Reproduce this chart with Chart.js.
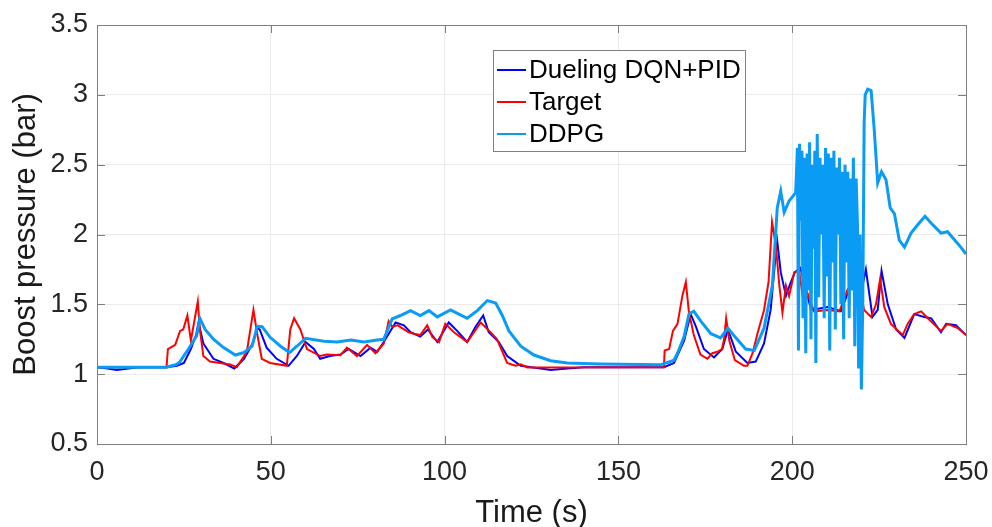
<!DOCTYPE html>
<html lang="en">
<head>
    <meta charset="UTF-8">
    <title>Boost pressure</title>
    <script src="https://cdn.jsdelivr.net/npm/chart.js"></script>
    <style>
        body {
            margin: 0;
            background: #fff;
        }
        #wrap {
            width: 992px;
            height: 527px;
        }
    </style>
</head>
<body>
    <div id="wrap">
        <canvas id="myChart" width="992" height="527"></canvas>
    </div>

    <script>
        // values (time in s, pressure in bar)
        const timeDueling = [0, 3, 5.7, 9, 12, 20, 23, 25, 27, 28.5, 29.2, 30.6, 33.5, 36.4, 39.5, 42.3, 45, 46, 46.8, 48.8, 51.7, 55.1, 57.5, 60, 62.4, 64.2, 67, 70, 72.4, 75.8, 78.7, 80.6, 82.5, 85.9, 88.3, 90.2, 93, 95.2, 97.9, 101.2, 103.6, 106.5, 108.9, 111.1, 112.7, 115.6, 118, 121.9, 127.6, 130.5, 135.3, 140.1, 163.1, 166, 168.9, 170.8, 172.3, 174.6, 177.5, 179.9, 181.5, 183.8, 187.1, 189.5, 191.9, 193.8, 195.3, 195.7, 196.7, 198.2, 199.6, 200.8, 202.3, 203.5, 205.4, 210.2, 214, 216.9, 219.8, 221.2, 223.1, 224.6, 225.7, 227.5, 229.9, 232.3, 235.1, 238, 240, 242.8, 244.3, 247.1, 250];
        const boostDueling = [1.05, 1.04, 1.03, 1.04, 1.05, 1.05, 1.06, 1.08, 1.18, 1.28, 1.37, 1.22, 1.11, 1.08, 1.04, 1.11, 1.23, 1.33, 1.32, 1.19, 1.11, 1.06, 1.13, 1.23, 1.18, 1.11, 1.13, 1.14, 1.18, 1.13, 1.19, 1.16, 1.23, 1.37, 1.35, 1.30, 1.27, 1.32, 1.23, 1.37, 1.31, 1.23, 1.34, 1.42, 1.30, 1.23, 1.13, 1.06, 1.04, 1.03, 1.04, 1.05, 1.05, 1.08, 1.24, 1.43, 1.34, 1.18, 1.12, 1.18, 1.32, 1.16, 1.08, 1.09, 1.22, 1.46, 1.87, 1.95, 1.73, 1.56, 1.66, 1.73, 1.76, 1.66, 1.46, 1.48, 1.45, 1.64, 1.58, 1.75, 1.41, 1.46, 1.74, 1.50, 1.32, 1.26, 1.43, 1.41, 1.40, 1.30, 1.36, 1.35, 1.28];

        const timeTarget = [0, 20, 20.4, 22.5, 23.9, 24.8, 26.0, 27.0, 29.0, 29.6, 30.6, 32.5, 38.3, 40.2, 43.1, 45.0, 46.0, 47.4, 49.8, 54.6, 55.6, 56.7, 58.5, 60.4, 64.2, 66.1, 70.0, 71.9, 74.8, 77.7, 80.1, 82.5, 83.9, 84.9, 86.5, 89.7, 91.1, 93, 95, 96.5, 98.4, 100.2, 102.7, 106.5, 110.4, 113.2, 115.1, 116.1, 118, 120.4, 121.9, 123.8, 163.1, 163.3, 164.6, 165.7, 167, 168.4, 169.4, 170.3, 171.7, 173.6, 175.6, 177, 178.5, 179.8, 180.4, 181.0, 181.9, 183.5, 186.1, 187.1, 188.6, 190, 191.9, 193.2, 194.2, 195.3, 196.3, 197.2, 198.2, 199.1, 200.6, 202, 203, 204.4, 206.3, 210.2, 213.6, 216, 217.9, 219.3, 220.7, 222.7, 224.1, 225.3, 226.5, 228.4, 231.8, 233.2, 235.1, 237.1, 239, 242.8, 244.7, 247.6, 250];
        const boostTarget = [1.05, 1.05, 1.18, 1.21, 1.31, 1.32, 1.42, 1.24, 1.52, 1.32, 1.13, 1.09, 1.07, 1.05, 1.16, 1.46, 1.30, 1.11, 1.08, 1.06, 1.32, 1.40, 1.32, 1.18, 1.13, 1.14, 1.135, 1.19, 1.13, 1.21, 1.15, 1.22, 1.38, 1.34, 1.35, 1.30, 1.29, 1.28, 1.35, 1.265, 1.23, 1.36, 1.30, 1.23, 1.37, 1.30, 1.25, 1.19, 1.08, 1.06, 1.07, 1.048, 1.05, 1.17, 1.18, 1.31, 1.36, 1.56, 1.66, 1.44, 1.28, 1.14, 1.11, 1.15, 1.16, 1.18, 1.25, 1.40, 1.24, 1.10, 1.06, 1.06, 1.15, 1.29, 1.46, 1.66, 2.09, 1.92, 1.635, 1.44, 1.635, 1.56, 1.73, 1.74, 1.56, 1.58, 1.45, 1.46, 1.45, 1.61, 1.635, 1.63, 1.46, 1.41, 1.50, 1.68, 1.48, 1.36, 1.28, 1.36, 1.43, 1.45, 1.40, 1.31, 1.36, 1.33, 1.28];

        const timeDdpg = [0, 20, 22.9, 23.9, 26.3, 28.7, 29.6, 31.1, 33.5, 36.4, 39.8, 42.3, 44.6, 46.1, 47.5, 49.8, 52.8, 55.4, 57.5, 60, 65.3, 69.1, 73, 76.8, 80.6, 82.5, 84.9, 87.3, 90.2, 93, 95.5, 97.9, 101.7, 104.1, 106.5, 109.4, 112.3, 114.7, 116.6, 118.5, 121.9, 125.7, 130.5, 135.3, 144.9, 162.1, 166, 167, 168.9, 170.3, 171.7, 173.7, 176.6, 179.4, 181.5, 183.8, 186.6, 189.1, 191.9, 194.3, 195.7, 196.7, 197.7, 199.1, 201, 201.5, 201.8, 202.1, 202.5, 202.8, 203.1, 203.5, 203.9, 204.3, 204.7, 205.0, 205.4, 205.8, 206.2, 206.5, 206.8, 207.2, 207.6, 208.0, 208.4, 208.8, 209.2, 209.6, 210.0, 210.4, 210.8, 211.2, 211.6, 212.0, 212.4, 212.8, 213.2, 213.6, 214.0, 214.4, 214.8, 215.2, 215.6, 216.0, 216.4, 216.8, 217.2, 217.6, 218.0, 218.4, 218.8, 219.1, 219.5, 219.9, 220.3, 220.7, 221, 221.7, 222.7, 223.6, 224.6, 225.7, 227, 228.2, 229.4, 230.8, 232.3, 234.2, 236.1, 238.2, 240, 242.8, 244.7, 247.1, 248.5, 250];
        const boostDdpg = [1.05, 1.05, 1.07, 1.09, 1.18, 1.275, 1.40, 1.32, 1.25, 1.19, 1.137, 1.155, 1.20, 1.343, 1.34, 1.264, 1.20, 1.155, 1.20, 1.257, 1.235, 1.23, 1.245, 1.23, 1.245, 1.25, 1.396, 1.42, 1.455, 1.42, 1.455, 1.41, 1.46, 1.43, 1.40, 1.455, 1.527, 1.51, 1.42, 1.31, 1.20, 1.137, 1.096, 1.08, 1.072, 1.067, 1.10, 1.15, 1.27, 1.43, 1.45, 1.38, 1.29, 1.26, 1.33, 1.26, 1.18, 1.17, 1.33, 1.635, 2.19, 2.31, 2.16, 2.24, 2.30, 2.62, 1.17, 2.65, 2.10, 2.60, 1.40, 2.55, 1.15, 2.58, 1.60, 2.66, 1.25, 2.50, 1.90, 2.60, 1.08, 2.72, 1.55, 2.55, 2.00, 2.50, 1.40, 2.62, 1.70, 2.58, 1.17, 2.55, 1.80, 2.60, 1.32, 2.48, 2.00, 2.55, 1.50, 2.45, 1.25, 2.50, 1.80, 2.45, 1.40, 2.40, 1.60, 2.55, 1.20, 2.40, 2.05, 1.04, 2.00, 0.89, 1.50, 2.80, 3.00, 3.04, 3.03, 2.75, 2.37, 2.45, 2.39, 2.19, 2.15, 1.96, 1.91, 2.01, 2.07, 2.13, 2.08, 2.01, 2.02, 1.95, 1.91, 1.86];

        const seriesNames = ['Dueling DQN+PID', 'Target', 'DDPG'];
        const seriesColors = ['#0000ff', '#ff0000', '#0a9cf5'];

        function pairs(xs, ys) {
            return xs.map((x, i) => ({ x: x, y: ys[i] }));
        }

        const FONT = '"Liberation Sans", Arial, sans-serif';
        const FRAME = '#808080';

        // MATLAB-like box with inward ticks on all four sides
        const framePlugin = {
            id: 'frame',
            afterDraw(chart) {
                const ctx = chart.ctx;
                const a = chart.chartArea;
                const xs = chart.scales.x, ys = chart.scales.y;
                ctx.save();
                ctx.strokeStyle = FRAME;
                ctx.lineWidth = 1;
                ctx.beginPath();
                xs.ticks.forEach(t => {
                    const px = Math.round(xs.getPixelForValue(t.value)) + 0.5;
                    ctx.moveTo(px, a.bottom); ctx.lineTo(px, a.bottom - 8);
                    ctx.moveTo(px, a.top); ctx.lineTo(px, a.top + 8);
                });
                ys.ticks.forEach(t => {
                    const py = Math.round(ys.getPixelForValue(t.value)) + 0.5;
                    ctx.moveTo(a.left, py); ctx.lineTo(a.left + 8, py);
                    ctx.moveTo(a.right, py); ctx.lineTo(a.right - 8, py);
                });
                ctx.stroke();
                ctx.strokeRect(Math.round(a.left) + 0.5, Math.round(a.top) + 0.5,
                    Math.round(a.right - a.left), Math.round(a.bottom - a.top));

                // legend box
                const bx = 493.5, by = 50.5, bw = 252, bh = 101;
                ctx.fillStyle = '#fff';
                ctx.fillRect(bx, by, bw, bh);
                ctx.strokeStyle = FRAME;
                ctx.strokeRect(bx, by, bw, bh);
                const rows = [70, 102, 134];
                ctx.font = '26px ' + FONT;
                ctx.textBaseline = 'middle';
                ctx.textAlign = 'left';
                seriesNames.forEach((name, i) => {
                    ctx.strokeStyle = seriesColors[i];
                    ctx.lineWidth = 2;
                    ctx.beginPath();
                    ctx.moveTo(497, rows[i]);
                    ctx.lineTo(526, rows[i]);
                    ctx.stroke();
                    ctx.fillStyle = '#000';
                    ctx.fillText(name, 529, rows[i] + 1);
                });
                ctx.restore();
            }
        };

        const ctx = document.getElementById('myChart').getContext('2d');
        const myChart = new Chart(ctx, {
            type: 'line',
            data: {
                datasets: [
                    {
                        label: seriesNames[2],
                        data: pairs(timeDdpg, boostDdpg),
                        borderColor: seriesColors[2],
                        borderWidth: 3
                    },
                    {
                        label: seriesNames[1],
                        data: pairs(timeTarget, boostTarget),
                        borderColor: seriesColors[1],
                        borderWidth: 2
                    },
                    {
                        label: seriesNames[0],
                        data: pairs(timeDueling, boostDueling),
                        borderColor: seriesColors[0],
                        borderWidth: 2
                    }
                ]
            },
            options: {
                responsive: false,
                devicePixelRatio: 1,
                animation: false,
                elements: {
                    point: { radius: 0 },
                    line: { tension: 0, fill: false }
                },
                layout: {
                    padding: { top: 25, right: 26, left: 0, bottom: 0 }
                },
                plugins: {
                    legend: { display: false },
                    tooltip: { enabled: false }
                },
                scales: {
                    x: {
                        type: 'linear',
                        min: 0,
                        max: 250,
                        afterFit: s => {
                            s.height = 83;
                            s.paddingLeft = 0;
                            s.paddingRight = 0;
                        },
                        ticks: {
                            stepSize: 50,
                            padding: 12,
                            color: '#262626',
                            font: { family: FONT, size: 27 }
                        },
                        grid: { color: '#ebebeb', drawTicks: false },
                        border: { display: false },
                        title: {
                            display: true,
                            text: 'Time (s)',
                            color: '#1a1a1a',
                            font: { family: FONT, size: 31, lineHeight: 1 },
                            padding: { top: 0, bottom: -2 }
                        }
                    },
                    y: {
                        min: 0.5,
                        max: 3.5,
                        afterFit: s => {
                            s.width = 97;
                            s.paddingTop = 0;
                            s.paddingBottom = 0;
                        },
                        ticks: {
                            stepSize: 0.5,
                            padding: 9,
                            color: '#262626',
                            font: { family: FONT, size: 27 },
                            callback: v => String(Number(v.toFixed(1)))
                        },
                        grid: { color: '#ebebeb', drawTicks: false },
                        border: { display: false },
                        title: {
                            display: true,
                            text: 'Boost pressure (bar)',
                            color: '#1a1a1a',
                            font: { family: FONT, size: 31, lineHeight: 1 },
                            padding: { top: 11, bottom: 0 }
                        }
                    }
                }
            },
            plugins: [framePlugin]
        });
    </script>
</body>
</html>
